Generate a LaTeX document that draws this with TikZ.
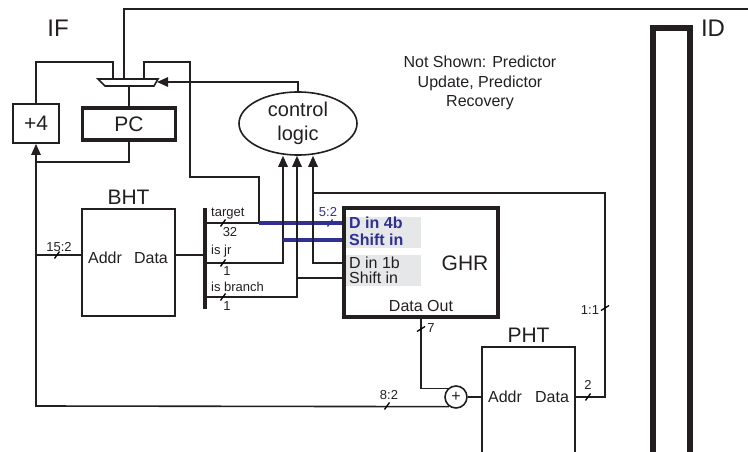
\documentclass[tikz,border=0pt]{standalone}
\usepackage{fontspec}
\setmainfont{Liberation Sans}
\usetikzlibrary{shapes.geometric,arrows.meta}
\definecolor{PredictLine}{HTML}{231F20}
\definecolor{PredictBlue}{HTML}{2E3192}
\definecolor{PredictGray}{HTML}{E6E7E8}
\tikzset{
  wire/.style={draw=PredictLine,line width=1.6pt},
  bluewire/.style={draw=PredictBlue,line width=3.2pt},
  tipin/.style={-{Triangle[length=11pt,width=9.5pt]}},
  unitbox/.style={draw=PredictLine,line width=1.9pt,inner sep=0pt},
  heavybox/.style={draw=PredictLine,line width=3.6pt,inner sep=0pt},
  shadebox/.style={fill=PredictGray,minimum width=76,minimum height=31,inner sep=0pt},
  stagetext/.style={text=PredictLine,font=\fontsize{24}{28}\selectfont},
  unittext/.style={text=PredictLine,font=\fontsize{21}{25}\selectfont},
  porttext/.style={text=PredictLine,font=\fontsize{16}{19}\selectfont,inner sep=0pt},
  bluetext/.style={text=PredictBlue,font=\fontsize{16}{19}\selectfont\bfseries,inner sep=0pt},
  widthtext/.style={text=PredictLine,font=\fontsize{13}{15}\selectfont,inner sep=0pt},
  hslash/.pic={\draw[line width=1.3pt] (-2.5,3.5) -- (2.5,-3.5);},
  vslash/.pic={\draw[line width=1.3pt] (-4,2.5) -- (4,-2.5);}
}
\begin{document}
\begin{tikzpicture}[x=1pt,y=-1pt]
      \clip (0,0) rectangle (748,452);
      \node[stagetext] (iflbl) at (58,28) {IF};
      \node[stagetext] (idlbl) at (713,28) {ID};
      \node[text=PredictLine,font=\fontsize{16}{19.5}\selectfont,align=center] (note) at (480,83)
        {Not Shown: Predictor\\Update, Predictor\\Recovery};
      \draw[wire] (98,79) -- (158,79) -- (154,86) -- (105,86) -- cycle;
      \coordinate (muxL) at (113,79);
      \coordinate (muxM) at (124,79);
      \coordinate (muxR) at (144,79);
      \coordinate (muxO) at (129,86);
      \coordinate (muxS) at (157,82);
      \node[heavybox,unittext,minimum width=93,minimum height=32] (pc) at (129,124) {PC};
      \node[unitbox,unittext,minimum width=46,minimum height=39] (plus4) at (36,123.5) {+4};
      \node[draw=PredictLine,line width=1.6pt,ellipse,inner sep=0pt,minimum width=118,minimum height=63,
        align=center,text=PredictLine,font=\fontsize{20}{24}\selectfont] (ctrl) at (298,123.5) {control\\logic};
      \node[unitbox,minimum width=93,minimum height=107] (bht) at (128.5,262.5) {};
      \node[unittext] (bhtname) at (128.5,197) {BHT};
      \node[porttext] (bhtaddr) at (105,258) {Addr};
      \node[porttext] (bhtdata) at (151,258) {Data};
      \node[shadebox] (shade4) at (383,232.5) {};
      \node[shadebox] (shade1) at (383,270.5) {};
      \node[heavybox,minimum width=154,minimum height=109] (ghr) at (421,262.5) {};
      \node[unittext] (ghrname) at (465,263) {GHR};
      \node[bluetext,anchor=west] (din4) at (349,223) {D in 4b};
      \node[bluetext,anchor=west] (shin4) at (349,240) {Shift in};
      \node[porttext,anchor=west] (din1) at (349,263) {D in 1b};
      \node[porttext,anchor=west] (shin1) at (349,278) {Shift in};
      \node[porttext] (ghrout) at (421,306) {Data Out};
      \node[draw=PredictLine,line width=1.6pt,circle,inner sep=0pt,minimum size=22] (adder) at (456,397) {};
      \node[text=PredictLine,font=\fontsize{16}{19}\selectfont,inner sep=0pt] (plus) at (adder) {+};
      \node[unitbox,minimum width=93,minimum height=140] (pht) at (528.5,417) {};
      \node[unittext] (phtname) at (528.5,335) {PHT};
      \node[porttext] (phtaddr) at (505,397) {Addr};
      \node[porttext] (phtdata) at (552,397) {Data};
      \node[draw=PredictLine,line width=6pt,inner sep=0pt,minimum width=37,minimum height=450] (id) at (671.5,253) {};
      \coordinate (busT) at (205,208);
      \coordinate (busB) at (205,309);
      \draw[PredictLine,line width=3.6pt] (busT) -- (busB);
      \coordinate (topR) at (748,9);
      \coordinate (loopL) at (36,62);
      \coordinate (loopR) at (144,62);
      \coordinate (tgtUp) at (190,177);
      \coordinate (tgtJ) at (259,223);
      \coordinate (jrJ) at (283,240);
      \coordinate (jrC) at (283,263);
      \coordinate (brJ) at (297,278);
      \coordinate (brC) at (297,297);
      \coordinate (phtUp) at (605,193);
      \coordinate (fbJ) at (313,193);
      \coordinate (fbC) at (313,263);
      \coordinate (pcJ) at (36,162);
      \coordinate (bhtJ) at (36,255);
      \coordinate (pcLow) at (36,406);
      \draw[wire] (muxM) |- (topR);
      \draw[wire] (muxL) |- (loopL) -- (plus4.north);
      \draw[wire] (muxO) -- (pc.north);
      \draw[wire,tipin] (pc.south) |- (pcJ) -- (plus4.south);
      \draw[wire,tipin] (ctrl.north) |- (muxS);
      \draw[wire] (pcJ) -- (pcLow) -- (adder.235);
      \draw[wire] (bhtJ) -- (bhtJ -| bht.west);
      \draw[wire] (bht.east |- bhtJ) -- (bhtJ -| busT);
      \draw[wire] (tgtJ -| busT) -- (tgtJ);
      \draw[wire] (tgtJ) |- (tgtUp) |- (loopR) -- (muxR);
      \draw[bluewire] (tgtJ) -- (tgtJ -| ghr.west);
      \draw[wire,tipin] (jrC -| busT) -- (jrC) -- (jrC |- ctrl.south);
      \draw[bluewire] (jrJ) -- (jrJ -| ghr.west);
      \draw[wire,tipin] (brC -| busT) -- (brC) -- (brC |- ctrl.south);
      \draw[wire] (brJ) -- (brJ -| ghr.west);
      \draw[wire] (pht.east |- adder) -| (phtUp) -- (fbJ) -- (fbC) -- (fbC -| ghr.west);
      \draw[wire,tipin] (fbJ) -- (fbJ |- ctrl.south);
      \draw[wire] (ghr.south) |- (adder.133);
      \draw[wire] (adder.east) -- (adder.east -| pht.west);
      \node[widthtext] (w152) at (59,247) {15:2};
      \pic at (57,255) {hslash};
      \node[widthtext,anchor=west] (ttgt) at (211,214) {target};
      \node[widthtext] (w32) at (230,232) {32};
      \pic at (223,223) {hslash};
      \node[widthtext,anchor=west] (tjr) at (211,251) {is jr};
      \node[widthtext] (w1a) at (227,271) {1};
      \pic at (223,263) {hslash};
      \node[widthtext,anchor=west] (tbr) at (211,287) {is branch};
      \node[widthtext] (w1b) at (227,306) {1};
      \pic at (223,297) {hslash};
      \node[widthtext,text=PredictBlue] (w52) at (328,212) {5:2};
      \pic[PredictBlue] at (330,223) {hslash};
      \node[widthtext] (w7) at (431,328) {7};
      \pic at (421,329) {vslash};
      \node[widthtext] (w82) at (389,395) {8:2};
      \pic at (387,406) {hslash};
      \node[widthtext] (w2) at (588,385) {2};
      \pic at (588,397) {hslash};
      \node[widthtext] (w11) at (590,310) {1:1};
      \pic at (605,308) {vslash};
\end{tikzpicture}
\end{document}
